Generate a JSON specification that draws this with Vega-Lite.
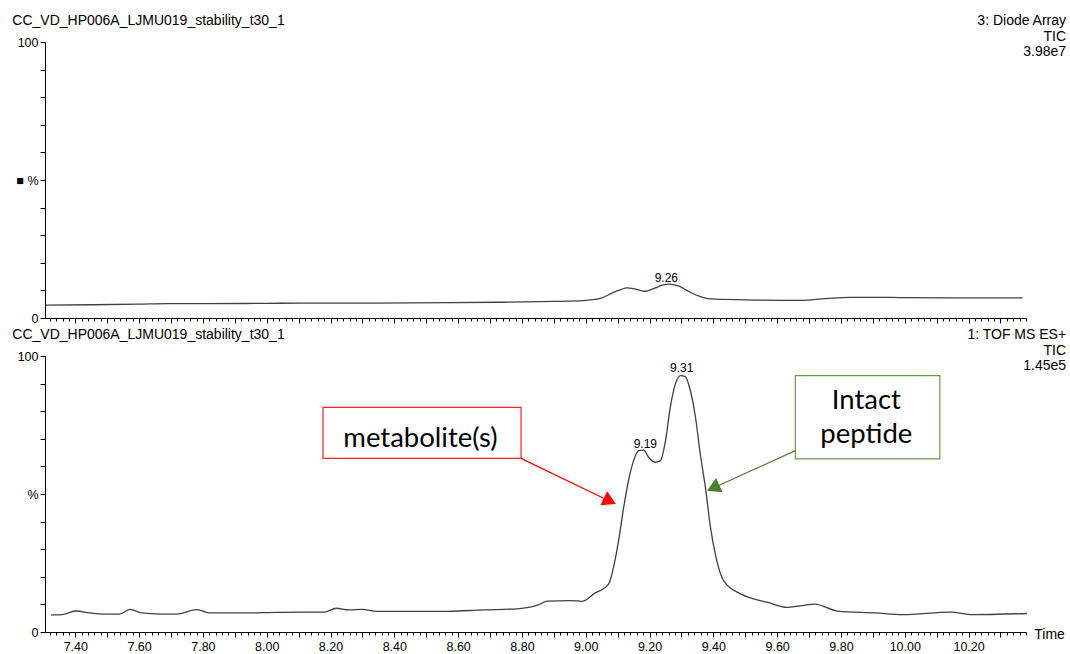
{
  "$schema": "https://vega.github.io/schema/vega-lite/v6.json",
  "padding": {"left": 12, "top": 14, "right": 4, "bottom": 0},
  "spacing": 3,
  "config": {
    "view": {"stroke": null},
    "font": "Liberation Sans",
    "axis": {
      "grid": false,
      "domainColor": "#000000",
      "tickColor": "#000000",
      "labelColor": "#000000",
      "labelFont": "Liberation Sans",
      "labelFontSize": 12.5,
      "labelOverlap": false,
      "labelFlush": false,
      "title": null
    },
    "text": {"font": "Liberation Sans", "color": "#000000"}
  },
  "vconcat": [
    {
      "width": 981,
      "height": 276,
      "layer": [
        {
          "data": {"values": [
            {"t": 7.306, "p": 4.7}, {"t": 7.45, "p": 4.8}, {"t": 7.6, "p": 5.0}, {"t": 7.69, "p": 5.2},
            {"t": 7.8, "p": 5.2}, {"t": 8.0, "p": 5.3}, {"t": 8.105, "p": 5.4}, {"t": 8.3, "p": 5.4},
            {"t": 8.576, "p": 5.6}, {"t": 8.732, "p": 5.7}, {"t": 8.9, "p": 6.0}, {"t": 8.992, "p": 6.3},
            {"t": 9.046, "p": 7.1}, {"t": 9.083, "p": 9.1}, {"t": 9.11, "p": 10.3}, {"t": 9.129, "p": 10.9},
            {"t": 9.155, "p": 10.5}, {"t": 9.187, "p": 9.7}, {"t": 9.218, "p": 10.9}, {"t": 9.24, "p": 11.9},
            {"t": 9.26, "p": 12.3}, {"t": 9.29, "p": 11.6}, {"t": 9.318, "p": 9.9}, {"t": 9.353, "p": 8.0},
            {"t": 9.391, "p": 6.9}, {"t": 9.5, "p": 6.6}, {"t": 9.673, "p": 6.4}, {"t": 9.75, "p": 7.0},
            {"t": 9.829, "p": 7.5}, {"t": 9.9, "p": 7.5}, {"t": 9.986, "p": 7.4}, {"t": 10.15, "p": 7.3},
            {"t": 10.369, "p": 7.3}
          ]},
          "mark": {"type": "line", "color": "#404040", "strokeWidth": 1.3, "interpolate": "monotone"},
          "encoding": {
            "x": {
              "field": "t", "type": "quantitative",
              "scale": {"domain": [7.305, 10.38], "nice": false, "zero": false},
              "axis": {
                "values": [7.32,7.34,7.36,7.38,7.4,7.42,7.44,7.46,7.48,7.5,7.52,7.54,7.56,7.58,7.6,7.62,7.64,7.66,7.68,7.7,7.72,7.74,7.76,7.78,7.8,7.82,7.84,7.86,7.88,7.9,7.92,7.94,7.96,7.98,8,8.02,8.04,8.06,8.08,8.1,8.12,8.14,8.16,8.18,8.2,8.22,8.24,8.26,8.28,8.3,8.32,8.34,8.36,8.38,8.4,8.42,8.44,8.46,8.48,8.5,8.52,8.54,8.56,8.58,8.6,8.62,8.64,8.66,8.68,8.7,8.72,8.74,8.76,8.78,8.8,8.82,8.84,8.86,8.88,8.9,8.92,8.94,8.96,8.98,9,9.02,9.04,9.06,9.08,9.1,9.12,9.14,9.16,9.18,9.2,9.22,9.24,9.26,9.28,9.3,9.32,9.34,9.36,9.38,9.4,9.42,9.44,9.46,9.48,9.5,9.52,9.54,9.56,9.58,9.6,9.62,9.64,9.66,9.68,9.7,9.72,9.74,9.76,9.78,9.8,9.82,9.84,9.86,9.88,9.9,9.92,9.94,9.96,9.98,10,10.02,10.04,10.06,10.08,10.1,10.12,10.14,10.16,10.18,10.2,10.22,10.24,10.26,10.28,10.3,10.32,10.34,10.36,10.38],
                "tickCount": 1000,
                "labels": false,
                "tickSize": {"condition": {"test": "abs(datum.value*10 - round(datum.value*10)) < 0.01", "value": 5}, "value": 3}
              }
            },
            "y": {
              "field": "p", "type": "quantitative",
              "scale": {"domain": [0, 100], "nice": false},
              "axis": {
                "values": [0, 10, 20, 30, 40, 50, 60, 70, 80, 90, 100],
                "tickCount": 100,
                "tickSize": 5,
                "labelPadding": 2,
                "labelExpr": "datum.value == 50 ? '■  %' : (datum.value == 0 || datum.value == 100 ? datum.label : '')"
              }
            }
          }
        },
        {
          "data": {"values": [{"t": 7.2025, "p": 107.6, "s": "CC_VD_HP006A_LJMU019_stability_t30_1"}]},
          "mark": {"type": "text", "align": "left", "baseline": "middle", "fontSize": 14},
          "encoding": {
            "x": {"field": "t", "type": "quantitative"},
            "y": {"field": "p", "type": "quantitative"},
            "text": {"field": "s"}
          }
        },
        {
          "data": {"values": [
            {"t": 10.5056, "p": 107.6, "s": "3: Diode Array"},
            {"t": 10.5056, "p": 101.8, "s": "TIC"},
            {"t": 10.5056, "p": 96.2, "s": "3.98e7"}
          ]},
          "mark": {"type": "text", "align": "right", "baseline": "middle", "fontSize": 14},
          "encoding": {
            "x": {"field": "t", "type": "quantitative"},
            "y": {"field": "p", "type": "quantitative"},
            "text": {"field": "s"}
          }
        },
        {
          "data": {"values": [{"t": 9.2527, "p": 13.2, "s": "9.26"}]},
          "mark": {"type": "text", "align": "center", "baseline": "alphabetic", "fontSize": 12},
          "encoding": {
            "x": {"field": "t", "type": "quantitative"},
            "y": {"field": "p", "type": "quantitative"},
            "text": {"field": "s"}
          }
        }
      ]
    },
    {
      "width": 981,
      "height": 276,
      "layer": [
        {
          "data": {"values": [
            {"t": 7.324, "p": 6.2}, {"t": 7.359, "p": 6.3}, {"t": 7.4, "p": 7.6}, {"t": 7.446, "p": 6.9},
            {"t": 7.494, "p": 6.5}, {"t": 7.538, "p": 6.5}, {"t": 7.572, "p": 8.2}, {"t": 7.607, "p": 6.9},
            {"t": 7.666, "p": 6.5}, {"t": 7.717, "p": 6.5}, {"t": 7.781, "p": 8.1}, {"t": 7.823, "p": 6.9},
            {"t": 7.92, "p": 6.9}, {"t": 8.03, "p": 7.1}, {"t": 8.105, "p": 7.2}, {"t": 8.181, "p": 7.2},
            {"t": 8.218, "p": 8.6}, {"t": 8.256, "p": 8.0}, {"t": 8.3, "p": 8.2}, {"t": 8.344, "p": 7.5},
            {"t": 8.463, "p": 7.5}, {"t": 8.569, "p": 7.5}, {"t": 8.679, "p": 8.0}, {"t": 8.786, "p": 8.4},
            {"t": 8.851, "p": 9.8}, {"t": 8.88, "p": 11.2}, {"t": 8.952, "p": 11.4}, {"t": 8.988, "p": 11.1},
            {"t": 9.025, "p": 13.8}, {"t": 9.072, "p": 17.4}, {"t": 9.087, "p": 23.4}, {"t": 9.103, "p": 33.1},
            {"t": 9.119, "p": 45.2}, {"t": 9.134, "p": 54.8}, {"t": 9.15, "p": 62.1}, {"t": 9.166, "p": 65.7},
            {"t": 9.182, "p": 65.9}, {"t": 9.197, "p": 63.3}, {"t": 9.218, "p": 61.5}, {"t": 9.234, "p": 62.1},
            {"t": 9.25, "p": 69.3}, {"t": 9.265, "p": 81.4}, {"t": 9.281, "p": 89.9}, {"t": 9.297, "p": 92.9},
            {"t": 9.312, "p": 92.5}, {"t": 9.328, "p": 87.4}, {"t": 9.344, "p": 77.8}, {"t": 9.359, "p": 64.5},
            {"t": 9.375, "p": 52.4}, {"t": 9.391, "p": 37.9}, {"t": 9.406, "p": 28.3}, {"t": 9.432, "p": 18.6},
            {"t": 9.485, "p": 13.8}, {"t": 9.526, "p": 12.0}, {"t": 9.568, "p": 10.8}, {"t": 9.631, "p": 8.9},
            {"t": 9.673, "p": 9.5}, {"t": 9.718, "p": 10.1}, {"t": 9.789, "p": 7.6}, {"t": 9.908, "p": 6.9},
            {"t": 9.994, "p": 6.3}, {"t": 10.145, "p": 7.2}, {"t": 10.21, "p": 6.3}, {"t": 10.383, "p": 6.7}
          ]},
          "mark": {"type": "line", "color": "#404040", "strokeWidth": 1.3, "interpolate": "monotone"},
          "encoding": {
            "x": {
              "field": "t", "type": "quantitative",
              "scale": {"domain": [7.305, 10.38], "nice": false, "zero": false},
              "axis": {
                "values": [7.32,7.34,7.36,7.38,7.4,7.42,7.44,7.46,7.48,7.5,7.52,7.54,7.56,7.58,7.6,7.62,7.64,7.66,7.68,7.7,7.72,7.74,7.76,7.78,7.8,7.82,7.84,7.86,7.88,7.9,7.92,7.94,7.96,7.98,8,8.02,8.04,8.06,8.08,8.1,8.12,8.14,8.16,8.18,8.2,8.22,8.24,8.26,8.28,8.3,8.32,8.34,8.36,8.38,8.4,8.42,8.44,8.46,8.48,8.5,8.52,8.54,8.56,8.58,8.6,8.62,8.64,8.66,8.68,8.7,8.72,8.74,8.76,8.78,8.8,8.82,8.84,8.86,8.88,8.9,8.92,8.94,8.96,8.98,9,9.02,9.04,9.06,9.08,9.1,9.12,9.14,9.16,9.18,9.2,9.22,9.24,9.26,9.28,9.3,9.32,9.34,9.36,9.38,9.4,9.42,9.44,9.46,9.48,9.5,9.52,9.54,9.56,9.58,9.6,9.62,9.64,9.66,9.68,9.7,9.72,9.74,9.76,9.78,9.8,9.82,9.84,9.86,9.88,9.9,9.92,9.94,9.96,9.98,10,10.02,10.04,10.06,10.08,10.1,10.12,10.14,10.16,10.18,10.2,10.22,10.24,10.26,10.28,10.3,10.32,10.34,10.36,10.38],
                "tickCount": 1000,
                "labelPadding": 3,
                "labelExpr": "abs(datum.value*5 - round(datum.value*5)) < 0.01 ? format(datum.value, '.2f') : ''",
                "tickSize": {"condition": {"test": "abs(datum.value*10 - round(datum.value*10)) < 0.01", "value": 5}, "value": 3}
              }
            },
            "y": {
              "field": "p", "type": "quantitative",
              "scale": {"domain": [0, 100], "nice": false},
              "axis": {
                "values": [0, 10, 20, 30, 40, 50, 60, 70, 80, 90, 100],
                "tickCount": 100,
                "tickSize": 5,
                "labelPadding": 2,
                "labelExpr": "datum.value == 50 ? '%' : (datum.value == 0 || datum.value == 100 ? datum.label : '')"
              }
            }
          }
        },
        {
          "data": {"values": [
            {"x1": 8.1765, "x2": 8.7972, "y1": 81.4, "y2": 62.9}
          ]},
          "mark": {"type": "rect", "fill": "#ffffff", "stroke": "#ff2020", "strokeWidth": 1.2},
          "encoding": {
            "x": {"field": "x1", "type": "quantitative"},
            "x2": {"field": "x2"},
            "y": {"field": "y1", "type": "quantitative"},
            "y2": {"field": "y2"}
          }
        },
        {
          "data": {"values": [
            {"x1": 9.657, "x2": 10.11, "y1": 92.9, "y2": 62.7}
          ]},
          "mark": {"type": "rect", "fill": "#ffffff", "stroke": "#6a9a4a", "strokeWidth": 1.2},
          "encoding": {
            "x": {"field": "x1", "type": "quantitative"},
            "x2": {"field": "x2"},
            "y": {"field": "y1", "type": "quantitative"},
            "y2": {"field": "y2"}
          }
        },
        {
          "data": {"values": [
            {"x1": 8.797, "y1": 62.9, "x2": 9.0755, "y2": 47.4}
          ]},
          "mark": {"type": "rule", "color": "#ff0000", "strokeWidth": 1.2},
          "encoding": {
            "x": {"field": "x1", "type": "quantitative"},
            "x2": {"field": "x2"},
            "y": {"field": "y1", "type": "quantitative"},
            "y2": {"field": "y2"}
          }
        },
        {
          "data": {"values": [{"t": 9.0755, "p": 47.4}]},
          "mark": {"type": "point", "shape": "triangle-right", "filled": true, "color": "#ff0000", "opacity": 1, "size": 240, "angle": 25.6},
          "encoding": {
            "x": {"field": "t", "type": "quantitative"},
            "y": {"field": "p", "type": "quantitative"}
          }
        },
        {
          "data": {"values": [
            {"x1": 9.657, "y1": 65.7, "x2": 9.3995, "y2": 52.2}
          ]},
          "mark": {"type": "rule", "color": "#4e7d2c", "strokeWidth": 1.2},
          "encoding": {
            "x": {"field": "x1", "type": "quantitative"},
            "x2": {"field": "x2"},
            "y": {"field": "y1", "type": "quantitative"},
            "y2": {"field": "y2"}
          }
        },
        {
          "data": {"values": [{"t": 9.3995, "p": 52.2}]},
          "mark": {"type": "point", "shape": "triangle-right", "filled": true, "color": "#4e7d2c", "opacity": 1, "size": 240, "angle": 155.6},
          "encoding": {
            "x": {"field": "t", "type": "quantitative"},
            "y": {"field": "p", "type": "quantitative"}
          }
        },
        {
          "data": {"values": [
            {"t": 8.482, "p": 66.9, "s": "metabolite(s)"},
            {"t": 9.8796, "p": 80.8, "s": "Intact"},
            {"t": 9.8796, "p": 68.5, "s": "peptide"}
          ]},
          "mark": {"type": "text", "align": "center", "baseline": "alphabetic", "fontSize": 27.5, "font": "Lato"},
          "encoding": {
            "x": {"field": "t", "type": "quantitative"},
            "y": {"field": "p", "type": "quantitative"},
            "text": {"field": "s"}
          }
        },
        {
          "data": {"values": [{"t": 7.2025, "p": 107.6, "s": "CC_VD_HP006A_LJMU019_stability_t30_1"}]},
          "mark": {"type": "text", "align": "left", "baseline": "middle", "fontSize": 14},
          "encoding": {
            "x": {"field": "t", "type": "quantitative"},
            "y": {"field": "p", "type": "quantitative"},
            "text": {"field": "s"}
          }
        },
        {
          "data": {"values": [
            {"t": 10.5056, "p": 107.6, "s": "1: TOF MS ES+"},
            {"t": 10.5056, "p": 101.8, "s": "TIC"},
            {"t": 10.5056, "p": 96.2, "s": "1.45e5"}
          ]},
          "mark": {"type": "text", "align": "right", "baseline": "middle", "fontSize": 14},
          "encoding": {
            "x": {"field": "t", "type": "quantitative"},
            "y": {"field": "p", "type": "quantitative"},
            "text": {"field": "s"}
          }
        },
        {
          "data": {"values": [
            {"t": 9.3006, "p": 94.1, "s": "9.31"},
            {"t": 9.1868, "p": 66.6, "s": "9.19"}
          ]},
          "mark": {"type": "text", "align": "center", "baseline": "alphabetic", "fontSize": 12},
          "encoding": {
            "x": {"field": "t", "type": "quantitative"},
            "y": {"field": "p", "type": "quantitative"},
            "text": {"field": "s"}
          }
        },
        {
          "data": {"values": [{"t": 10.406, "p": -1.1, "s": "Time"}]},
          "mark": {"type": "text", "align": "left", "baseline": "middle", "fontSize": 14},
          "encoding": {
            "x": {"field": "t", "type": "quantitative"},
            "y": {"field": "p", "type": "quantitative"},
            "text": {"field": "s"}
          }
        }
      ]
    }
  ]
}
